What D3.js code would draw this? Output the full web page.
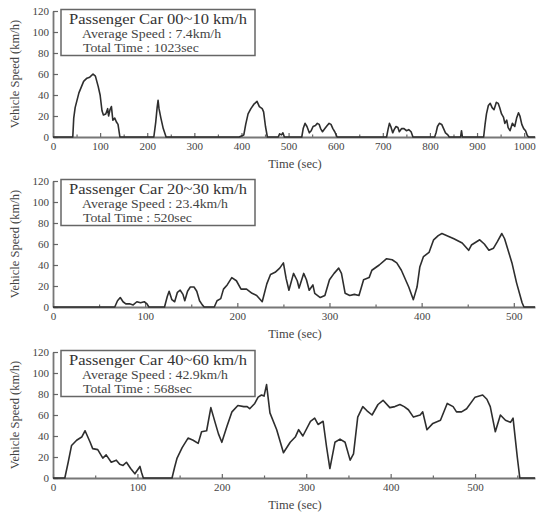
<!DOCTYPE html>
<html><head><meta charset="utf-8">
<script src="https://cdn.jsdelivr.net/npm/d3@7"></script>
<style>body{margin:0;background:#fff}svg{display:block}
svg text{font-family:"Liberation Serif","Times New Roman",Times,serif !important;}</style>
</head><body><svg id="c" width="544" height="512"></svg>
<script>
// ---------- DATA ----------
const p1Time = [0,42,44,47,55,65,72,78,85,90,96,100,104,107,112,116,118,121,124,127,131,135,138,142,
  214,218,221,223,225,229,234,240,
  395,405,409,414,420,426,433,438,444,447,451,455,
  478,481,485,488,491,
  528,531,535,539,544,548,552,557,561,565,568,572,577,582,586,590,594,598,603,
  708,711,714,717,721,724,728,732,735,740,745,750,755,760,764,
  810,813,816,820,825,829,833,838,841,
  865,867,869,
  914,917,920,924,928,932,936,941,945,948,952,956,959,963,966,970,975,980,984,988,991,995,999,1003,1007,1010,1023];
const p1Speed = [0,0,18,28,42,53,56,57,60,58,48,40,25,21,22,27,20,26,29,16,18,14,12,0,
  0,14,28,35,27,18,8,0,
  0,2,12,22,27,31,34,29,27,24,10,0,
  0,3,2,4,0,
  0,8,13,10,4,6,10,11,13,12,8,5,8,11,13,12,8,5,0,
  0,7,13,10,4,7,10,9,5,8,8,6,7,5,0,
  0,4,10,13,12,8,4,2,0,
  0,6,0,
  0,12,22,30,32,28,26,33,32,28,22,19,13,16,9,6,13,10,18,23,20,12,8,6,1,0,0];

const p2Time = [0,67,70,73,76,79,83,87,91,95,99,102,104,
  121,124,126,129,132,135,138,141,143,146,149,153,156,159,162,164,
  175,178,182,185,189,194,199,204,210,216,221,227,232,236,241,246,250,253,256,261,265,267,272,275,278,282,284,290,295,
  300,305,310,313,317,322,327,332,337,343,346,354,362,368,373,378,386,391,395,398,402,408,413,418,422,430,435,444,451,454,
  463,468,473,478,482,487,490,498,503,509,511,523];
const p2Speed = [0,0,6,9,5,3,3,2,5,4,5,3,0,
  0,10,15,7,5,14,16,12,6,15,19,19,15,6,2,0,
  0,6,8,17,21,28,25,17,17,13,11,5,22,31,33,37,42,27,16,32,25,18,32,26,16,21,13,9,11,
  26,32,37,32,13,11,12,11,26,28,35,40,46,45,42,35,19,7,19,38,48,52,64,68,70,67,65,61,54,59,
  64,60,54,56,62,70,65,42,23,4,0,0];

const p3Time = [0,14,18,22,28,34,38,44,47,53,59,63,69,75,79,83,87,92,97,103,105,107,
  141,144,147,153,160,166,172,176,182,187,192,196,200,206,212,219,226,230,233,239,243,247,250,253,257,265,273,281,287,291,296,
  305,310,314,320,324,328,334,340,346,352,356,361,367,372,378,385,391,399,405,411,416,421,427,435,438,443,450,459,467,474,478,
  484,490,500,509,514,518,524,530,536,542,545,550,553,571];
const p3Speed = [0,0,15,31,36,39,45,34,28,27,19,22,15,17,13,12,15,9,4,11,5,0,
  0,10,19,29,38,36,33,44,45,67,53,42,34,49,63,69,68,68,66,71,77,79,78,89,62,46,24,34,39,46,40,
  54,57,51,54,30,9,34,37,34,17,23,58,68,64,60,70,74,67,68,70,68,65,58,60,63,46,52,55,71,68,63,
  63,66,77,79,75,68,44,60,55,53,57,20,0,0];

const panelTitles = ["Passenger Car 00~10 km/h", "Passenger Car 20~30 km/h", "Passenger Car 40~60 km/h"];
const avgSpeeds = ["7.4km/h", "23.4km/h", "42.9km/h"];
const totalTimes = ["1023sec", "520sec", "568sec"];
const yTicks = [0, 20, 40, 60, 80, 100, 120];
const xTicks1 = [0,100,200,300,400,500,600,700,800,900,1000];
const xTicks2 = [0,100,200,300,400,500];
const xTicks3 = [0,100,200,300,400,500];
const xMax = [1023, 523, 571];
const yLabel = "Vehicle Speed (km/h)";
const xLabel = "Time (sec)";

// ---------- DRAW ----------
const svg = d3.select("#c");
const series = [[p1Time,p1Speed],[p2Time,p2Speed],[p3Time,p3Speed]];
const xTickSets = [xTicks1, xTicks2, xTicks3];
const baseY = [137, 307, 478];
const X0 = 53, X1 = 535;

series.forEach(([ts, vs], i) => {
  const y0 = baseY[i], yTop = y0 - 126;
  const x = d3.scaleLinear().domain([0, xMax[i]]).range([X0, X1]);
  const y = d3.scaleLinear().domain([0, 120]).range([y0, yTop]);
  const g = svg.append("g");

  // minor x ticks
  const minor = d3.range(50, xMax[i], 100);
  g.append("g").attr("transform", `translate(0,${y0})`)
    .call(d3.axisBottom(x).tickValues(minor).tickSizeInner(-2.5).tickSizeOuter(0).tickFormat(""))
    .call(a => a.select(".domain").remove())
    .call(a => a.selectAll("line").attr("stroke", "#666").attr("stroke-width", 1.2));

  // x axis
  g.append("g").attr("transform", `translate(0,${y0})`)
    .call(d3.axisBottom(x).tickValues(xTickSets[i]).tickSizeInner(-4).tickSizeOuter(0).tickPadding(5).tickFormat(d3.format("d")))
    .call(a => a.select(".domain").attr("stroke", "#777").attr("stroke-width", 1.8))
    .call(a => a.selectAll("line").attr("stroke", "#666").attr("stroke-width", 1.2))
    .call(a => a.selectAll("text").attr("font-size", 11).attr("fill", "#444"));

  // y axis
  g.append("g").attr("transform", `translate(${X0},0)`)
    .call(d3.axisLeft(y).tickValues(yTicks).tickSizeInner(-5).tickSizeOuter(0).tickPadding(4))
    .call(a => a.select(".domain").attr("stroke", "#777").attr("stroke-width", 1.8))
    .call(a => a.selectAll("line").attr("stroke", "#666").attr("stroke-width", 1.2))
    .call(a => a.selectAll("text").attr("font-size", 11).attr("fill", "#444"));

  // line
  const pts = ts.map((t, k) => [t, vs[k]]);
  g.append("path").datum(pts)
    .attr("fill", "none").attr("stroke", "#2e2e2e").attr("stroke-width", 1.6)
    .attr("stroke-linejoin", "round")
    .attr("d", d3.line().x(d => x(d[0])).y(d => y(d[1])));

  // legend box
  g.append("rect").attr("x", 61).attr("y", yTop - 1.5).attr("width", 194).attr("height", 46)
    .attr("fill", "#fff").attr("stroke", "#666").attr("stroke-width", 1.5);
  g.append("text").attr("transform", `translate(158,${yTop + 13}) scale(1.1,1)`).attr("text-anchor", "middle")
    .attr("font-size", 15).attr("fill", "#333").text(panelTitles[i]);
  g.append("text").attr("transform", `translate(82,${yTop + 27}) scale(1.2,1)`)
    .attr("font-size", 11.5).attr("fill", "#444").text("Average Speed : " + avgSpeeds[i]);
  g.append("text").attr("transform", `translate(83,${yTop + 40.5}) scale(1.2,1)`)
    .attr("font-size", 11.5).attr("fill", "#444").text("Total Time : " + totalTimes[i]);

  // axis labels
  g.append("text").attr("x", 295).attr("y", y0 + 31).attr("text-anchor", "middle")
    .attr("font-size", 12.5).attr("fill", "#444").text(xLabel);
  g.append("text").attr("transform", `translate(19,${y0 - 63}) rotate(-90)`).attr("text-anchor", "middle")
    .attr("font-size", 12.5).attr("fill", "#444").text(yLabel);
});
</script></body></html>
